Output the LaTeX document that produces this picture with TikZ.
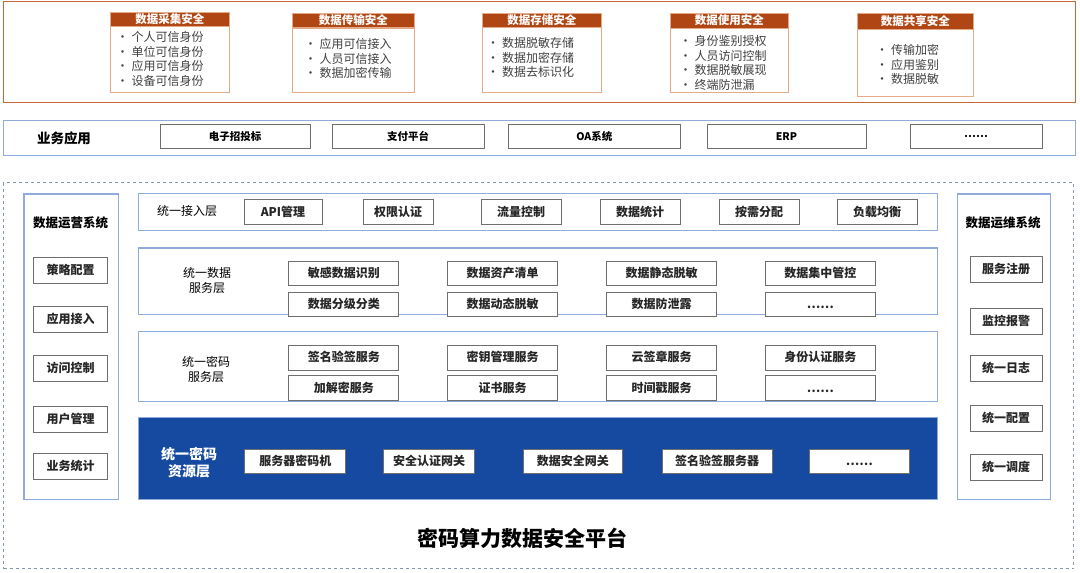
\documentclass[tikz,border=0pt]{standalone}
\usepackage{fontspec}
\setmainfont{Noto Sans CJK SC}
\usetikzlibrary{matrix}
\definecolor{framebrown}{RGB}{200,105,50}
\definecolor{headbrown}{RGB}{175,70,20}
\definecolor{bodyedge}{RGB}{228,170,135}
\definecolor{lineblue}{RGB}{143,170,220}
\definecolor{dashblue}{RGB}{132,151,176}
\definecolor{deepblue}{RGB}{21,74,160}
\definecolor{boxgray}{RGB}{110,110,110}
\definecolor{textgray}{RGB}{64,64,64}
\newcommand{\itemdot}{\makebox[15pt][l]{\textbullet}}

\begin{document}
\begin{tikzpicture}[x=1pt,y=-1pt,
        outerframe/.style={draw=framebrown,line width=1.2pt,inner sep=0pt,anchor=north west},
        headbox/.style={fill=headbrown,draw=bodyedge,line width=0.8pt,text=white,inner sep=0pt,anchor=north west,font=\fontsize{11.5}{12}\selectfont\bfseries},
        bodybox/.style={draw=bodyedge,line width=1.4pt,inner sep=0pt,anchor=north west},
        bulletlist/.style={anchor=west,align=left,inner sep=0pt,text=textgray,font=\fontsize{12}{14.6}\selectfont},
        blueframe/.style={draw=lineblue,line width=1.2pt,inner sep=0pt,anchor=north west},
        appbox/.style={draw=boxgray,line width=0.9pt,inner sep=0pt,minimum height=24.3,font=\fontsize{10.5}{11}\selectfont\bfseries},
        graybox/.style={draw=boxgray,line width=0.9pt,fill=white,inner sep=0pt,minimum height=24.3,text height=10pt,text depth=2pt,text=black!85,font=\fontsize{12}{13}\selectfont\bfseries},
        sidebox/.style={graybox,minimum height=26},
        layerlabel/.style={align=center,inner sep=0pt,font=\fontsize{12}{15}\selectfont},
        boldlabel/.style={align=center,inner sep=0pt,font=\fontsize{12.5}{15}\selectfont\bfseries}
    ]
                \useasboundingbox (0,0) rectangle (1080,573);
                \node[outerframe,minimum width=1072,minimum height=100.5] (secframe) at (3,1.2) {};
                \node[bodybox,minimum width=119,minimum height=66.5] (collect) at (110,25.5) {};
                \node[headbox,minimum width=119,minimum height=13.5] (collecthead) at (110,12) {数据采集安全};
                \node[bodybox,minimum width=122,minimum height=64.7] (transfer) at (292,27.3) {};
                \node[headbox,minimum width=122,minimum height=14.6] (transferhead) at (292,12.7) {数据传输安全};
                \node[bodybox,minimum width=119,minimum height=65] (storage) at (482,27) {};
                \node[headbox,minimum width=119,minimum height=14] (storagehead) at (482,13) {数据存储安全};
                \node[bodybox,minimum width=118,minimum height=64.3] (usage) at (670,27.7) {};
                \node[headbox,minimum width=118,minimum height=15] (usagehead) at (670,12.7) {数据使用安全};
                \node[bodybox,minimum width=116,minimum height=67] (share) at (857,29) {};
                \node[headbox,minimum width=116,minimum height=16] (sharehead) at (857,13) {数据共享安全};
                \node[bulletlist] (collectlist) at (116.5,59) {\itemdot 个人可信身份\\\itemdot 单位可信身份\\\itemdot 应用可信身份\\\itemdot 设备可信身份};
                \node[bulletlist] (transferlist) at (304.5,58.5) {\itemdot 应用可信接入\\\itemdot 人员可信接入\\\itemdot 数据加密传输};
                \node[bulletlist] (storagelist) at (487,57.5) {\itemdot 数据脱敏存储\\\itemdot 数据加密存储\\\itemdot 数据去标识化};
                \node[bulletlist] (usagelist) at (679.5,63) {\itemdot 身份鉴别授权\\\itemdot 人员访问控制\\\itemdot 数据脱敏展现\\\itemdot 终端防泄漏};
                \node[bulletlist] (sharelist) at (876,64.5) {\itemdot 传输加密\\\itemdot 应用鉴别\\\itemdot 数据脱敏};
                \node[blueframe,minimum width=1072,minimum height=35.5] (bizframe) at (3,119.5) {};
                \node[boldlabel,font=\fontsize{13.5}{15}\selectfont\bfseries] (bizlabel) at (64,138) {业务应用};
                \node[appbox,minimum width=150] (bid) at (235,136.2) {电子招投标};
                \node[appbox,minimum width=152] (pay) at (408,136.2) {支付平台};
                \node[appbox,minimum width=171.4] (oa) at (594.3,136.2) {OA系统};
                \node[appbox,minimum width=159] (erp) at (786.5,136.2) {ERP};
                \node[appbox,minimum width=132] (bizmore) at (976,136.2) {……};
                \node[draw=dashblue,dashed,line width=1pt,inner sep=0pt,anchor=north west,minimum width=1070,minimum height=386] (platform) at (3,182) {};
                \node[blueframe,minimum width=94.6,minimum height=305.7] (opsys) at (23.4,193.3) {};
                \node[boldlabel] (oplabel) at (70.7,223) {数据运营系统};
                \node[sidebox,minimum width=74] (policy) at (70.5,270) {策略配置};
                \node[sidebox,minimum width=74] (appin) at (70.5,319.5) {应用接入};
                \node[sidebox,minimum width=74] (access) at (70.5,368.5) {访问控制};
                \node[sidebox,minimum width=74] (users) at (70.5,419) {用户管理};
                \node[sidebox,minimum width=74] (bizstat) at (70.5,466) {业务统计};
                \node[blueframe,minimum width=93.5,minimum height=305.7] (maintsys) at (956.5,193.3) {};
                \node[boldlabel] (maintlabel) at (1003.2,223) {数据运维系统};
                \node[sidebox,minimum width=72] (register) at (1006,269.7) {服务注册};
                \node[sidebox,minimum width=72] (monitor) at (1006,321) {监控报警};
                \node[sidebox,minimum width=72] (logs) at (1006,368) {统一日志};
                \node[sidebox,minimum width=72] (config) at (1006,418.7) {统一配置};
                \node[sidebox,minimum width=72] (sched) at (1006,467.5) {统一调度};
                \node[blueframe,minimum width=799,minimum height=37.3] (gateway) at (138,192.7) {};
                \node[layerlabel] (gatewaylabel) at (187,211) {统一接入层};
                \node[graybox,minimum width=78] (api) at (283,212) {API管理};
                \node[graybox,minimum width=70] (auth) at (398,212) {权限认证};
                \node[graybox,minimum width=80] (flow) at (521,212) {流量控制};
                \node[graybox,minimum width=80] (stats) at (640,212) {数据统计};
                \node[graybox,minimum width=80] (alloc) at (759,212) {按需分配};
                \node[graybox,minimum width=80] (balance) at (877,212) {负载均衡};
                \node[blueframe,minimum width=799,minimum height=66.7] (dataserv) at (138,247.3) {};
                \node[layerlabel] (datalabel) at (207,280) {统一数据\\服务层};
                \matrix[matrix of nodes,anchor=north west,column sep=48pt,row sep=5.6pt,nodes={graybox,minimum width=110}] (datagrid) at (284.8,257.3)
                {
                    敏感数据识别 & 数据资产清单 & 数据静态脱敏 & 数据集中管控 \\
                    数据分级分类 & 数据动态脱敏 & 数据防泄露   & ……         \\
                };
                \node[blueframe,minimum width=799,minimum height=70.3] (cryptoserv) at (138,330.7) {};
                \node[layerlabel] (cryptolabel) at (206,369) {统一密码\\服务层};
                \matrix[matrix of nodes,anchor=north west,column sep=48pt,row sep=5pt,nodes={graybox,minimum width=110}] (cryptogrid) at (284.8,341.7)
                {
                    签名验签服务 & 密钥管理服务 & 云签章服务 & 身份认证服务 \\
                    加解密服务   & 证书服务     & 时间戳服务 & ……         \\
                };
                \node[fill=deepblue,draw=lineblue,line width=0.6pt,inner sep=0pt,anchor=north west,minimum width=799,minimum height=82] (resource) at (138,417) {};
                \node[layerlabel,text=white,font=\fontsize{14}{16.5}\selectfont\bfseries] (resourcelabel) at (189,462.5) {统一密码\\资源层};
                \node[graybox,minimum width=101] (hsm) at (295.3,461.3) {服务器密码机};
                \node[graybox,minimum width=91.4] (authgw) at (429.1,461.3) {安全认证网关};
                \node[graybox,minimum width=99.8] (datagw) at (572.9,461.3) {数据安全网关};
                \node[graybox,minimum width=109.6] (signsrv) at (717.2,461.3) {签名验签服务器};
                \node[graybox,minimum width=100.7] (resmore) at (859.3,461.3) {……};
                \node[inner sep=0pt,font=\fontsize{21}{24}\selectfont\bfseries] (title) at (522,538) {密码算力数据安全平台};
            \end{tikzpicture}
\end{document}
